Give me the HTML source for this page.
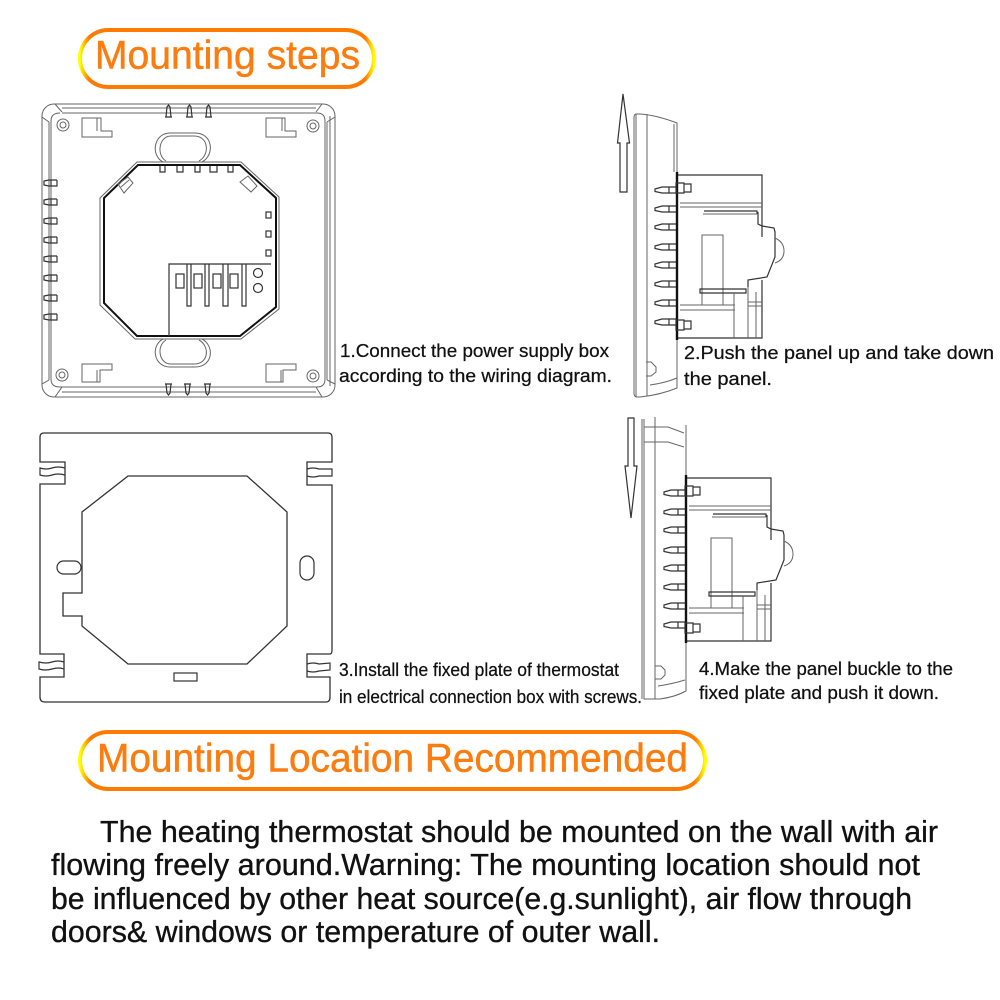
<!DOCTYPE html>
<html><head><meta charset="utf-8"><style>
html,body{margin:0;padding:0;background:#fff}
svg{display:block}
text{font-family:"Liberation Sans",sans-serif}
.l{fill:none;stroke:#666;stroke-width:1}
.d{fill:none;stroke:#333;stroke-width:1.2}
.lab{font-size:18.5px;fill:#111;stroke:#111;stroke-width:.25}
.body{font-size:31px;fill:#111;stroke:#111;stroke-width:.35}
.hd{font-size:40px;fill:#fb7d10;stroke:#fb7d10;stroke-width:.5}
</style></head><body>
<svg width="1000" height="1000" viewBox="0 0 1000 1000" xmlns="http://www.w3.org/2000/svg">
<defs>
<linearGradient id="g"><stop offset="0" stop-color="#ff0"/><stop offset=".03" stop-color="#ff7b00"/><stop offset=".97" stop-color="#ff7b00"/><stop offset="1" stop-color="#ff0"/></linearGradient>
<linearGradient id="g2"><stop offset="0" stop-color="#ff0"/><stop offset=".016" stop-color="#ff7b00"/><stop offset=".984" stop-color="#ff7b00"/><stop offset="1" stop-color="#ff0"/></linearGradient>
<g id="pinL"><path class="d" d="M14 -3H6L1 -2V2L6 3H14V-3M8 -3V3"/></g>
<g id="pinS"><path class="d" d="M21 -3H7L0 -1V1.500L7 3H21M14 -3V3"/></g>
<g id="side">
  <path class="d" d="M678 175H762V237"/>
  <path class="d" d="M704 211H757V214M758 212V224L762 226L774 228L775 232V257L767 277L748 280V287M762 280V338H678"/>
  <path class="l" d="M775 238Q784 242 784 251Q784 260 775 263"/>
  <path d="M677 172V340" fill="none" stroke="#111" stroke-width="2.4"/>
  <path class="l" d="M680 203H762M680 207H762"/>
  <path class="l" d="M703 214H757"/>
  <path class="l" d="M702 235H723V305H702Z"/>
  <path class="d" d="M700 289H746V293H700Z"/>
  <path class="l" d="M680 305H735M680 310H735M734 293V338M748 287V338M756 292V338M748 302H762M748 306H762"/>
  <use href="#pinS" x="655" y="190"/><use href="#pinS" x="655" y="209"/><use href="#pinS" x="655" y="227"/><use href="#pinS" x="655" y="247"/><use href="#pinS" x="655" y="265"/><use href="#pinS" x="655" y="284"/><use href="#pinS" x="655" y="303"/><use href="#pinS" x="655" y="322"/>
  <path class="d" d="M676 183H684V193H676ZM684 184H691V192H684ZM676 320H684V330H676ZM684 321H691V329H684Z"/>
</g>
</defs>
<rect width="1000" height="1000" fill="#fff"/>

<!-- Headers -->
<rect x="80" y="30" width="294" height="57" rx="28.500" fill="#fff" stroke="url(#g)" stroke-width="4"/>
<text class="hd" x="95" y="68.500" textLength="265" lengthAdjust="spacingAndGlyphs">Mounting steps</text>
<rect x="80" y="732" width="625" height="57" rx="28.500" fill="#fff" stroke="url(#g2)" stroke-width="4"/>
<text class="hd" x="97" y="771.500" textLength="591" lengthAdjust="spacingAndGlyphs">Mounting Location Recommended</text>

<!-- Diagram 1 frame -->
<rect x="42" y="104" width="293" height="293" rx="12" fill="none" stroke="#666"/>
<path class="l" d="M62 108H316M62 113H317Q325 113 325 121V379Q325 387 317 387H60Q51 387 51 379V121Q51 113 60 113M49 122V380M327 122V380M330 116V386M62 392H316M62 387H316"/>
<path class="l" d="M55 104L62 112M42 117L49 122M322 104L316 112M335 117L327 122M55 397L62 387M42 384L49 380M322 397L316 387M335 384L327 380"/>
<g class="l">
  <circle cx="63" cy="125" r="6"/><circle cx="63" cy="125" r="3"/>
  <circle cx="313" cy="126" r="6"/><circle cx="313" cy="126" r="3"/>
  <circle cx="62" cy="375" r="6"/><circle cx="62" cy="375" r="3"/>
  <circle cx="313" cy="376" r="6"/><circle cx="313" cy="376" r="3"/>
</g>
<path class="l" d="M82 118H101V131H112V137H82ZM97 118V131M266 118H285V131H296V137H266ZM282 118V131M82 364H112V370H100V382H82ZM97 370V382M266 364H296V370H283V382H266ZM281 370V382"/>
<path class="l" d="M163 162C150 155 154 133 170 133H195C213 133 215 155 202 162M166 161C156 155 159 136 171 136H194C209 136 210 155 199 161"/>
<path class="l" d="M163 339C150 346 154 367 170 367H195C213 367 215 346 202 339M166 340C156 346 159 364 171 364H194C209 364 210 346 199 340"/>
<path class="l" d="M137 162H241L279 197V309L241 339H135L100 305V198Z"/>
<path d="M138 165H240L276 198V307L240 336H137L104 303V198Z" fill="none" stroke="#111" stroke-width="2"/>
<path class="d" d="M169 336V264H271"/>
<g fill="none" stroke="#333" stroke-width="1.2">
  <rect x="176" y="274" width="8" height="14"/><rect x="194" y="274" width="8" height="14"/><rect x="213" y="274" width="8" height="14"/><rect x="230" y="274" width="8" height="14"/>
  <path d="M187 264V306H191V264M205 264V306H209V264M223 264V306H228V264M242 264V306H246V264"/>
  <circle cx="258" cy="273" r="4.500"/><circle cx="258" cy="288" r="4.500"/>
  <rect x="266" y="212" width="5" height="6"/><rect x="266" y="231" width="5" height="6"/><rect x="266" y="250" width="5" height="6"/>
  <path d="M160 166V172H165V166M177 166V172H183V166M195 166V172H200V166M210 166V172H217V166M228 166V172H233V166"/>
</g>
<path class="l" d="M118 184L128 177L133 183L124 193ZM121 187L129 180M240 182L248 176L257 186L251 192Z"/>
<g transform="translate(43 0)">
  <use href="#pinL" y="183"/><use href="#pinL" y="202"/><use href="#pinL" y="221"/><use href="#pinL" y="240"/><use href="#pinL" y="259"/><use href="#pinL" y="278"/><use href="#pinL" y="298"/><use href="#pinL" y="317"/>
</g>
<path class="d" d="M166 117L167 107L168.500 105L170 107L171 117M165 117H172M187 117L188 107L189.500 105L191 107L192 117M186 117H193M206 117L207 107L208.500 105L210 107L211 117M205 117H212M166 384L167 393L168.500 395L170 393L171 384M165 384H172M185 384L186 393L187.500 395L189 393L190 384M184 384H191M205 384L206 393L207.500 395L209 393L210 384M204 384H211"/>

<!-- Diagram 2 -->
<path class="d" d="M623 94L617.500 143H620V192H627V143H629.500Z"/>
<path class="l" d="M677 175V123Q656 115 640 114H636Q634 114 634 118V393Q634 397 637 397H640Q660 395 677 388V338M636 114V397M647 114V396M650 385Q665 383 677 378"/>
<path class="l" d="M674 124V172M646 362H651L656 367V372L651 376H646"/>
<use href="#side"/>

<!-- Diagram 4 -->
<path class="d" d="M628 418H634V466H637L631 518L625 466H628Z"/>
<path class="l" d="M644 419V699H660Q675 697 686 691V642M642 419V699M655 417V699M644 427H668L684 433M644 442H668L684 447M686 425V476M658 686Q672 684 685 680"/>
<path class="l" d="M655 666H661L665 670V675L661 679H655"/>
<g transform="translate(9 303)"><use href="#side"/></g>

<!-- Diagram 3 -->
<path d="M44 433H328Q332 433 332 437V462H307V485H332V650Q332 654 330 654H307V677H330V697Q330 702 326 702H45Q40 702 40 697V677H64V654H40V484H65V462H40V437Q40 433 44 433Z" fill="none" stroke="#333" stroke-width="1.3"/>
<path d="M128 476H247L287 512V626L247 664H128L82 626V616H63V593H82V512Z" fill="none" stroke="#333" stroke-width="1.3"/>
<g fill="none" stroke="#333" stroke-width="1.2">
  <path d="M65 468Q58 466 52 468T40 468V475Q46 477 52 475T65 475"/>
  <path d="M307 469Q313 467 319 469H332V476H319Q313 478 307 476"/>
  <path d="M64 662Q58 660 52 662T39 662V669Q45 671 52 669T64 669"/>
  <path d="M307 664Q313 662 319 664L330 663V670L319 671Q313 673 307 671"/>
  <rect x="57" y="561" width="24" height="13" rx="6.500"/>
  <rect x="300" y="556" width="14" height="24" rx="7"/>
  <rect x="174" y="673" width="23" height="8"/>
</g>

<!-- Labels -->
<text class="lab" x="340" y="357" textLength="269" lengthAdjust="spacingAndGlyphs">1.Connect the power supply box</text>
<text class="lab" x="339" y="382" textLength="273" lengthAdjust="spacingAndGlyphs">according to the wiring diagram.</text>
<text class="lab" x="684" y="359" textLength="310" lengthAdjust="spacingAndGlyphs">2.Push the panel up and take down</text>
<text class="lab" x="684" y="385" textLength="88" lengthAdjust="spacingAndGlyphs">the panel.</text>
<text class="lab" x="339" y="676" textLength="280" lengthAdjust="spacingAndGlyphs">3.Install the fixed plate of thermostat</text>
<text class="lab" x="339" y="703" textLength="303" lengthAdjust="spacingAndGlyphs">in electrical connection box with screws.</text>
<text class="lab" x="699" y="675" textLength="254" lengthAdjust="spacingAndGlyphs">4.Make the panel buckle to the</text>
<text class="lab" x="699" y="699" textLength="240" lengthAdjust="spacingAndGlyphs">fixed plate and push it down.</text>

<!-- Body -->
<text class="body" x="100" y="842" textLength="838" lengthAdjust="spacingAndGlyphs">The heating thermostat should be mounted on the wall with air</text>
<text class="body" x="51" y="875" textLength="869" lengthAdjust="spacingAndGlyphs">flowing freely around.Warning: The mounting location should not</text>
<text class="body" x="51" y="909" textLength="861" lengthAdjust="spacingAndGlyphs">be influenced by other heat source(e.g.sunlight), air flow through</text>
<text class="body" x="51" y="942" textLength="609" lengthAdjust="spacingAndGlyphs">doors&amp; windows or temperature of outer wall.</text>
</svg>
</body></html>
